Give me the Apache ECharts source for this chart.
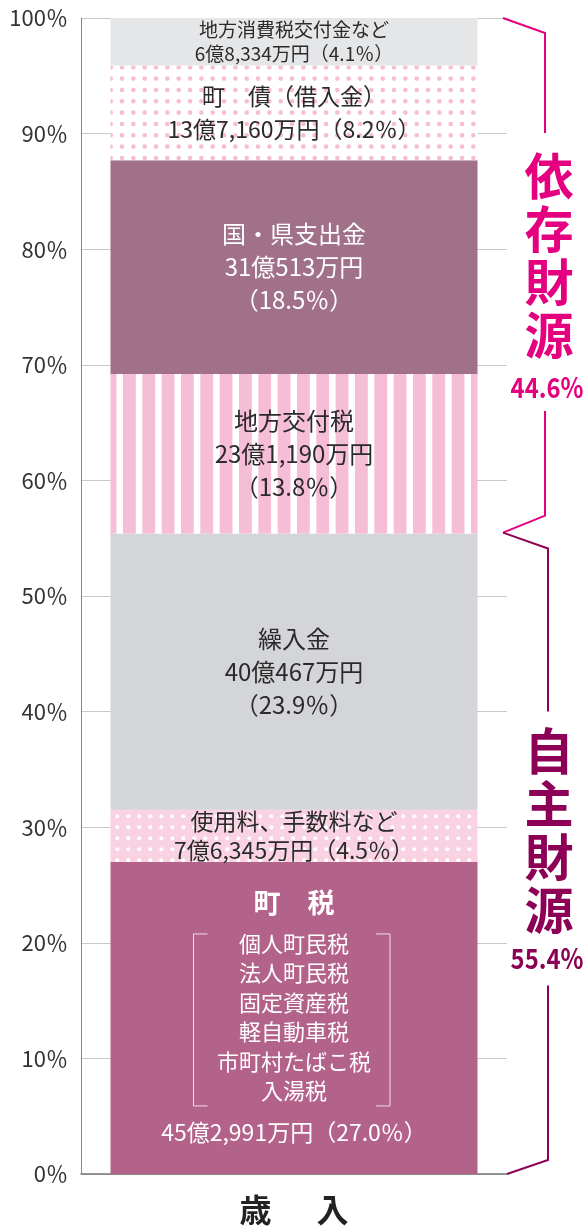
<!DOCTYPE html>
<html>
<head>
<meta charset="utf-8">
<script src="https://cdn.jsdelivr.net/npm/echarts@6/dist/echarts.min.js"></script>
<style>
  html, body { margin: 0; padding: 0; background: #fff; }
  #chart { width: 586px; height: 1229px; }
</style>
</head>
<body>
<div id="chart"></div>
<script>
// 歳入の内訳（下から積み上げ順）
var categories = ['歳　入'];
var itemNames = ['町　税', '使用料、手数料など', '繰入金', '地方交付税', '国・県支出金', '町　債（借入金）', '地方消費税交付金など'];
var amounts = ['45億2,991万円', '7億6,345万円', '40億467万円', '23億1,190万円', '31億513万円', '13億7,160万円', '6億8,334万円'];
var shares = [27.0, 4.5, 23.9, 13.8, 18.5, 8.2, 4.1];
// 町税の内訳
var townTaxItems = ['個人町民税', '法人町民税', '固定資産税', '軽自動車税', '市町村たばこ税', '入湯税'];
// 自主財源・依存財源
var groupNames = ['自主財源', '依存財源'];
var groupShares = [55.4, 44.6];
// 目盛り
var yMin = 0, yMax = 100, yStep = 10;

var FONT = '"Noto Sans CJK JP", "Noto Sans", sans-serif';
var PINK = '#e4007f';
var WINE = '#8c0055';

// 模様（ドット・ストライプ）を canvas で作る
function dotPattern(size, bg, dot, r, dots) {
  var c = document.createElement('canvas');
  c.width = size; c.height = size;
  var ctx = c.getContext('2d');
  ctx.fillStyle = bg;
  ctx.fillRect(0, 0, size, size);
  ctx.fillStyle = dot;
  dots.forEach(function (d) {
    for (var ox = -size; ox <= size; ox += size) {
      for (var oy = -size; oy <= size; oy += size) {
        ctx.beginPath();
        ctx.arc(d[0] + ox, d[1] + oy, r, 0, Math.PI * 2);
        ctx.fill();
      }
    }
  });
  return { image: c, repeat: 'repeat' };
}
function stripePattern() {
  var w = 58, p = w / 3;
  var c = document.createElement('canvas');
  c.width = w; c.height = 8;
  var ctx = c.getContext('2d');
  ctx.fillStyle = '#ffffff';
  ctx.fillRect(0, 0, w, 8);
  ctx.fillStyle = '#f6bdd6';
  for (var k = -1; k < 4; k++) {
    ctx.fillRect(7 + k * p, 0, 12.8, 8);
  }
  return { image: c, repeat: 'repeat' };
}

var p = 34 / 3;
var bondDots = [];
[8.7, 8.7 + p, 8.7 + 2 * p].forEach(function (x) {
  [10.6, 10.6 + p, 10.6 + 2 * p].forEach(function (y) { bondDots.push([x, y]); });
});

var fills = [
  '#b3638a',
  dotPattern(11, '#f9d3e3', '#ffffff', 2, [[7.3, 2.3]]),
  '#d4d5d8',
  stripePattern(),
  '#a17189',
  dotPattern(34, '#ffffff', '#f7bcd6', 2.3, bondDots),
  '#e5e6e8'
];

function pct(v) { return v.toFixed(1) + '％'; }

function labelText(i) {
  if (i === 0) {
    var lines = ['{t|' + itemNames[0] + '}'];
    townTaxItems.forEach(function (s) { lines.push('{s|' + s + '}'); });
    lines.push('{v|' + amounts[0] + '（' + pct(shares[0]) + '）}');
    return lines.join('\n');
  }
  if (i === 1 || i === 5 || i === 6) {
    return itemNames[i] + '\n' + amounts[i] + '（' + pct(shares[i]) + '）';
  }
  return itemNames[i] + '\n' + amounts[i] + '\n（' + pct(shares[i]) + '）';
}

var labelStyles = [
  { color: '#fff' },
  { color: '#2a2a2a', fontSize: 23, lineHeight: 29 },
  { color: '#2a2a2a', fontSize: 24, lineHeight: 33 },
  { color: '#2a2a2a', fontSize: 24, lineHeight: 33 },
  { color: '#fff', fontSize: 24, lineHeight: 33 },
  { color: '#2a2a2a', fontSize: 23, lineHeight: 33 },
  { color: '#2a2a2a', fontSize: 19, lineHeight: 24 }
];

var series = shares.map(function (v, i) {
  var lbl = Object.assign({
    show: true,
    position: 'inside',
    fontFamily: FONT,
    formatter: function () { return labelText(i); }
  }, labelStyles[i]);
  if (i === 0) {
    lbl.rich = {
      t: { fontSize: 27, fontWeight: 'bold', color: '#fff', lineHeight: 52, fontFamily: FONT },
      s: { fontSize: 22, color: '#fff', lineHeight: 29.5, fontFamily: FONT },
      v: { fontSize: 23, color: '#fff', lineHeight: 54, fontFamily: FONT }
    };
  }
  return {
    name: itemNames[i],
    type: 'bar',
    stack: 'total',
    barWidth: 367,
    data: [v],
    itemStyle: { color: fills[i] },
    label: lbl,
    emphasis: { disabled: true }
  };
});

var chart = echarts.init(document.getElementById('chart'));
var option = {
  animation: false,
  textStyle: { fontFamily: FONT },
  grid: { left: 81, right: 79, top: 18, bottom: 55 },
  xAxis: {
    type: 'category',
    data: categories,
    axisLine: { show: true, lineStyle: { color: '#777', width: 1.5 } },
    axisTick: { show: false },
    axisLabel: {
      margin: 20,
      formatter: function (v) {
        return v.split('　').map(function (c) { return '{a|' + c + '}'; }).join('{g|}');
      },
      rich: {
        a: { fontSize: 32, fontWeight: 'bold', color: '#222', fontFamily: FONT },
        g: { width: 45 }
      }
    }
  },
  yAxis: {
    type: 'value',
    min: yMin,
    max: yMax,
    interval: yStep,
    axisLine: { show: true, lineStyle: { color: '#888' } },
    axisTick: { show: false },
    axisLabel: { formatter: '{value}％', fontSize: 22, color: '#333', margin: 13, fontFamily: FONT },
    splitLine: { lineStyle: { color: '#c8c8c8' } }
  },
  series: series
};
chart.setOption(option);

// 右側の括弧と見出し、町税の括弧
function py(v) { return chart.convertToPixel({ yAxisIndex: 0 }, v); }
var xc = chart.convertToPixel({ xAxisIndex: 0 }, categories[0]);
var xEnd = chart.getWidth() - 79;
var bx = 546;
var yTop = py(yMax);
var yMid = py(groupShares[0]);
var yBot = py(yMin);

function line(points, color, w) {
  return { type: 'polyline', z: 100, shape: { points: points }, style: { stroke: color, lineWidth: w || 2, fill: null }, silent: true };
}
function txt(x, y, s, size, color, lh, sx) {
  return {
    type: 'text', z: 100, x: x, y: y, scaleX: sx || 1, silent: true,
    style: { text: s, x: 0, y: 0, align: 'center', verticalAlign: 'middle', fontSize: size, fontWeight: 'bold', fontFamily: FONT, fill: color, lineHeight: lh }
  };
}

var cy = py(shares[0] / 2);
var bTop = cy - 84, bBot = cy + 88;
var lx = xc - 100.5, rx = xc + 96;
var bc = '#f0dbe6';

chart.setOption({
  graphic: [
    // 依存財源
    line([[xEnd - 4, yTop], [bx - 1, yTop + 15], [bx - 1, yTop + 115]], PINK),
    line([[bx - 1, yTop + 393], [bx - 1, yMid - 18], [xEnd - 4, yMid - 1]], PINK),
    txt(bx + 3, yTop + 237.5, groupNames[1].split('').join('\n'), 50, PINK, 53, 0.98),
    txt(bx + 1, yTop + 369, groupShares[1].toFixed(1) + '%', 28, PINK, 30, 0.85),
    // 自主財源
    line([[xEnd - 4, yMid - 1], [bx + 2, yMid + 15], [bx + 2, yMid + 178]], WINE),
    line([[bx + 2, yMid + 452], [bx + 2, yBot - 14], [xEnd, yBot]], WINE),
    txt(bx + 3, yMid + 297, groupNames[0].split('').join('\n'), 50, WINE, 53, 0.98),
    txt(bx + 1, yMid + 425, groupShares[0].toFixed(1) + '%', 28, WINE, 30, 0.85),
    // 町税の括弧
    line([[lx + 14, bTop], [lx, bTop], [lx, bBot], [lx + 14, bBot]], bc, 1),
    line([[rx - 14, bTop], [rx, bTop], [rx, bBot], [rx - 14, bBot]], bc, 1)
  ]
});
</script>
</body>
</html>
